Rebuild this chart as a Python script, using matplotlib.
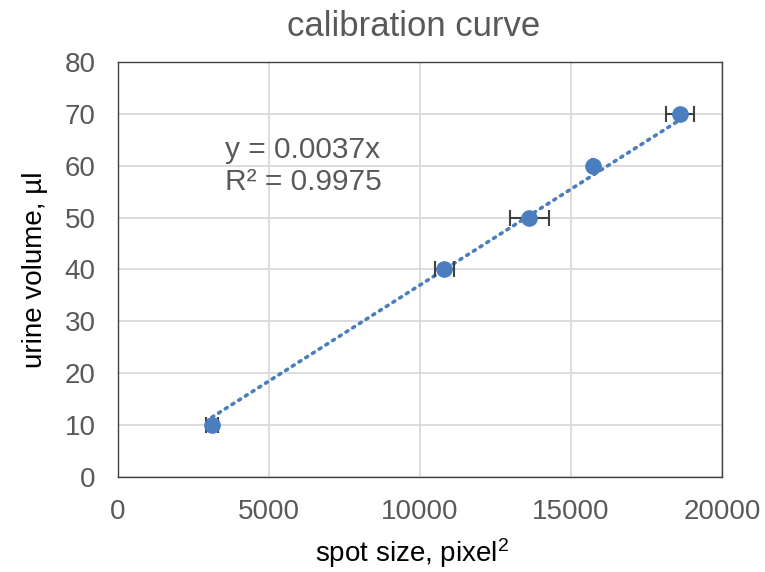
import numpy as np
import matplotlib.pyplot as plt

plt.rcParams['font.family'] = ['Liberation Sans', 'DejaVu Sans']
plt.rcParams['mathtext.fontset'] = 'custom'
plt.rcParams['mathtext.rm'] = 'Liberation Sans'

# data
spot_size = [3110, 10800, 13620, 15720, 18620]
spot_err = [210, 310, 650, 40, 460]
volume = [10, 40, 50, 60, 70]
slope = 0.0037

blue = '#4A7EBF'
grey = '#595959'

fig = plt.figure(figsize=(7.65, 5.72), dpi=100)
ax = fig.add_axes([0.1542, 0.1661, 0.7896, 0.7255])

# trend line through origin
xt = np.array([min(spot_size), max(spot_size)])
ax.plot(xt, slope * xt, color=blue, linestyle=(0, (0.6, 1.6)), linewidth=2.6,
        dash_capstyle='round', zorder=3)

ax.errorbar(spot_size, volume, xerr=spot_err, fmt='none', ecolor='#404040',
            elinewidth=1.5, capsize=6, capthick=1.5, zorder=4)
ax.plot(spot_size, volume, 'o', color=blue, markersize=11, zorder=5)

ax.text(3550, 63, 'y = 0.0037x', fontsize=21.5, color=grey, va='center')
ax.text(3550, 56.8, 'R² = 0.9975', fontsize=21.5, color=grey, va='center')

ax.set_xlim(0, 20000)
ax.set_ylim(0, 80)
ax.set_xticks(range(0, 20001, 5000))
ax.set_yticks(range(0, 81, 10))
ax.grid(True, color='#D9D9D9', linewidth=1.3)
ax.set_axisbelow(True)
for s in ax.spines.values():
    s.set_color('#404040')
    s.set_linewidth(1.0)
ax.tick_params(length=0, labelsize=20, labelcolor=grey, pad=16)

ax.set_title('calibration curve', fontsize=25, color=grey, pad=19, x=0.49)
ax.set_xlabel('spot size, pixel$\\mathregular{^2}$', fontsize=20, color='black',
              labelpad=8, x=0.487)
ax.set_ylabel('urine volume, µl', fontsize=20, color='black', labelpad=12)

fig.savefig('out.png', dpi=100)
